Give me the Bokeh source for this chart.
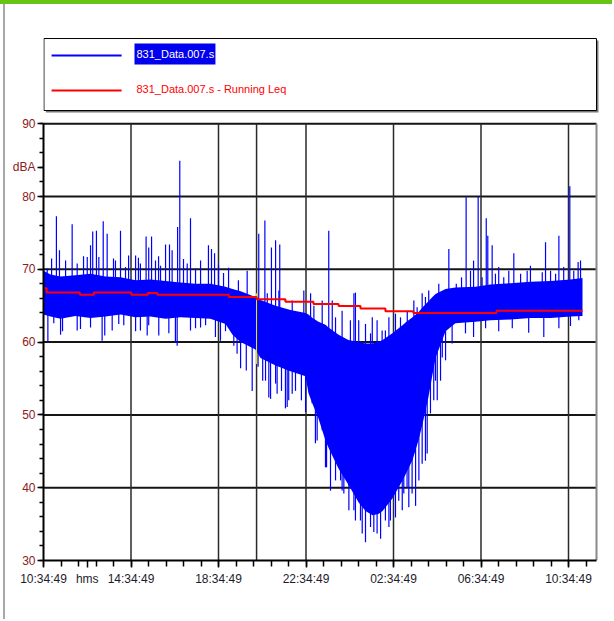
import numpy as np
from bokeh.plotting import figure
from bokeh.models import Range1d, FixedTicker, Div
from bokeh.layouts import column, row
from bokeh.core.properties import value
from bokeh.embed import file_html
from bokeh.resources import INLINE

# ---------------- data (time in hours after 10:34:49, level in dBA) ----------------
core_t = [0.00, 0.32, 0.78, 1.46, 2.15, 2.83, 3.52, 4.21, 4.89, 5.58,
          6.26, 6.95, 7.63, 8.32, 8.64, 9.01, 9.69, 9.92, 10.61, 11.29,
          11.98, 12.11, 12.30, 12.57, 12.89, 13.03, 13.49, 13.94, 14.40, 14.72,
          15.04, 15.31, 15.50, 15.95, 16.41, 16.55, 16.87, 17.14, 17.33, 17.60,
          17.78, 17.92, 18.38, 18.83, 19.75, 20.43, 21.35, 22.26, 23.18, 24.09,
          24.64]
core_hi = [69.8, 69.3, 69.0, 69.2, 69.4, 69.0, 68.9, 68.5, 68.6, 68.4,
           68.2, 68.0, 68.0, 67.6, 67.3, 67.0, 66.2, 65.8, 65.0, 64.4,
           64.0, 63.8, 63.3, 62.8, 62.4, 62.0, 61.0, 60.3, 60.0, 59.8,
           59.8, 60.0, 60.3, 61.2, 62.3, 62.7, 63.4, 64.1, 64.8, 65.6,
           66.2, 66.6, 67.3, 67.5, 67.6, 67.9, 68.1, 68.3, 68.4, 68.6,
           68.8]
core_lo = [63.8, 63.5, 63.2, 63.6, 63.3, 63.5, 63.8, 63.4, 63.5, 63.2,
           63.4, 63.3, 63.2, 62.5, 61.0, 60.0, 59.0, 57.8, 56.8, 56.0,
           55.3, 53.0, 51.5, 49.5, 46.5, 45.5, 42.6, 40.4, 38.0, 36.8,
           36.2, 36.4, 36.8, 38.5, 41.0, 41.8, 43.8, 46.5, 48.8, 52.5,
           55.5, 57.8, 61.5, 62.6, 62.8, 63.0, 63.1, 63.3, 63.3, 63.5,
           63.6]

# single-sample peaks above the band (time, dBA)
peaks_up = [(0.17, 70.1), (0.37, 71.5), (0.59, 77.3), (0.73, 72.6), (1.01, 71.2), (1.31, 76.2),
            (1.54, 70.8), (1.83, 71.8), (2.00, 71.7), (2.15, 73.3), (2.25, 75.2), (2.42, 75.3),
            (2.53, 71.7), (2.73, 76.6), (2.91, 74.9), (3.20, 71.5), (3.29, 71.2), (3.52, 75.3),
            (3.75, 70.3), (3.89, 71.9), (4.21, 71.9), (4.34, 71.6), (4.43, 70.8), (4.69, 74.5),
            (4.81, 73.0), (4.94, 74.5), (5.12, 71.2), (5.26, 71.8), (5.35, 70.5), (5.58, 73.4),
            (5.76, 73.4), (5.88, 72.6), (6.13, 75.8), (6.23, 84.9), (6.40, 71.4), (6.57, 70.8),
            (6.72, 77.0), (6.95, 70.1), (7.18, 71.2), (7.54, 73.3), (7.68, 72.8), (7.82, 72.2),
            (8.00, 70.6), (8.23, 69.5), (8.46, 70.2), (8.91, 68.5), (9.31, 69.8), (9.84, 74.9),
            (10.12, 76.7), (10.23, 66.7), (10.42, 73.0), (10.61, 74.0), (10.76, 67.1), (10.80, 73.4),
            (11.37, 65.7), (11.90, 67.1), (12.21, 66.7), (12.36, 65.0), (12.74, 65.7), (13.04, 75.3),
            (13.20, 65.7), (13.35, 63.4), (13.65, 64.3), (14.03, 63.0), (14.19, 66.7), (14.26, 66.8),
            (14.41, 63.0), (14.72, 62.5), (14.95, 61.2), (15.03, 63.4), (15.25, 63.0), (15.48, 61.6),
            (15.63, 61.6), (15.79, 63.4), (16.09, 63.9), (16.32, 63.4), (16.63, 64.3), (16.93, 65.7),
            (17.08, 64.8), (17.31, 66.7), (17.46, 66.2), (17.61, 67.1), (18.07, 68.0), (18.53, 72.8),
            (18.87, 68.0), (19.11, 68.9), (19.32, 79.9), (19.52, 69.8), (19.66, 71.2), (19.87, 80.0),
            (20.05, 68.9), (20.24, 77.0), (20.31, 74.6), (20.51, 73.3), (20.66, 69.4), (20.81, 70.3),
            (21.04, 68.9), (21.27, 69.8), (21.50, 72.2), (21.81, 69.4), (22.11, 69.8), (22.26, 70.5),
            (22.80, 69.6), (22.95, 73.7), (23.18, 69.8), (23.41, 69.4), (23.56, 74.6), (23.78, 70.3),
            (24.06, 81.4), (24.24, 69.8), (24.44, 71.0), (24.55, 71.2)]

# single-sample dips below the band (time, dBA)
peaks_dn = [(0.20, 60.0), (0.47, 62.6), (0.78, 61.0), (0.87, 61.5), (1.54, 61.6), (1.69, 61.8),
            (2.15, 62.0), (2.68, 60.2), (2.80, 60.9), (3.14, 61.6), (3.44, 62.5), (3.67, 62.3),
            (4.21, 61.5), (4.43, 61.6), (4.74, 60.9), (4.81, 62.3), (5.27, 60.9), (5.73, 61.2),
            (6.03, 60.0), (6.11, 59.5), (6.72, 61.6), (6.95, 61.9), (7.18, 62.0), (7.41, 62.3),
            (7.86, 60.7), (8.09, 60.2), (8.32, 61.5), (8.70, 59.5), (8.85, 58.4), (9.01, 56.4),
            (9.27, 56.1), (9.54, 53.3), (9.81, 56.6), (10.02, 54.7), (10.15, 54.7), (10.30, 52.4),
            (10.38, 52.2), (10.61, 54.3), (10.68, 52.9), (10.88, 53.3), (11.06, 50.9), (11.14, 51.1),
            (11.21, 52.0), (11.37, 52.9), (11.52, 53.3), (11.79, 52.0), (11.98, 50.4), (12.28, 51.6),
            (12.43, 46.1), (12.51, 46.5), (12.74, 47.9), (12.89, 42.8), (12.94, 42.8), (13.12, 39.6),
            (13.35, 41.0), (13.58, 41.0), (13.65, 39.6), (13.73, 39.2), (13.96, 36.9), (14.19, 36.9),
            (14.26, 35.5), (14.49, 35.5), (14.57, 33.7), (14.72, 32.5), (14.95, 34.6), (15.10, 33.9),
            (15.25, 33.7), (15.41, 33.0), (15.63, 35.5), (15.79, 34.6), (15.86, 35.5), (16.09, 35.9),
            (16.24, 38.2), (16.40, 36.9), (16.47, 39.2), (16.62, 40.1), (16.70, 37.3), (16.85, 39.2),
            (17.01, 37.5), (17.16, 41.0), (17.31, 43.3), (17.46, 43.7), (17.54, 44.7), (17.69, 50.2),
            (17.84, 52.0), (17.92, 54.7), (18.00, 52.0), (18.15, 54.7), (18.23, 57.9), (18.38, 57.5),
            (18.68, 59.8), (19.29, 61.2), (19.66, 60.7), (20.21, 61.9), (20.81, 61.5), (21.43, 61.9),
            (22.18, 61.3), (22.87, 60.7), (23.56, 61.9), (24.09, 62.2), (24.47, 63.0)]

leq_t = [0.00, 0.14, 1.66, 2.30, 4.01, 4.77, 5.20, 8.47, 9.74, 11.06,
         12.34, 13.49, 14.49, 15.63, 16.91, 20.71, 24.64]
leq_v = [67.4, 66.8, 66.5, 66.8, 66.5, 66.75, 66.5, 66.2, 65.9, 65.55,
         65.25, 64.95, 64.6, 64.25, 64.0, 64.3, 64.3]

x_ticks = [0, 4, 8, 12, 16, 20, 24]
x_tick_labels = ["10:34:49", "14:34:49", "18:34:49", "22:34:49", "02:34:49", "06:34:49", "10:34:49"]
x_unit_label = "hms"
y_ticks = [30, 40, 50, 60, 70, 80, 90]
y_unit_label = "dBA"
cursor_t = 9.74
series_names = ["831_Data.007.s", "831_Data.007.s - Running Leq"]

# ---------------- layout / style constants ----------------
PW = 607
PH = 615
T_RIGHT = 25.28
FONT = "Liberation Sans"
BLUE = "#0000ff"
RED = "#ff0000"
YLAB = "#8b2020"
XLAB = "#1c1c2c"

p = figure(width=PW, height=PH, x_range=Range1d(0, 25.417), y_range=Range1d(30, 105.55),
           output_backend="svg", toolbar_location=None,
           min_border_left=38, min_border_right=13, min_border_top=6, min_border_bottom=59)
p.outline_line_color = None
p.xgrid.visible = False
p.ygrid.visible = False
p.background_fill_color = "white"
p.border_fill_color = "white"

# grid of the plot box
hg = y_ticks[1:]
p.segment(x0=[0] * len(hg), x1=[T_RIGHT] * len(hg), y0=hg, y1=hg, line_color="#151515", line_width=2)
vg = x_ticks[1:] + [cursor_t]
p.segment(x0=vg, x1=vg, y0=[30] * len(vg), y1=[90] * len(vg), line_color="#2a2a2a", line_width=1.5)
p.segment(x0=[T_RIGHT], x1=[T_RIGHT], y0=[30], y1=[90], line_color="#8a8a8a", line_width=2)

# measured level: dense band + individual peaks
p.varea(x=core_t, y1=core_lo, y2=core_hi, fill_color=BLUE)
up_t = [a for a, b in peaks_up]
up_v = [b for a, b in peaks_up]
dn_t = [a for a, b in peaks_dn]
dn_v = [b for a, b in peaks_dn]
up_base = np.interp(up_t, core_t, core_hi) - 2.0
dn_base = np.interp(dn_t, core_t, core_lo) + 2.0
p.segment(x0=up_t, x1=up_t, y0=up_base, y1=up_v, line_color=BLUE, line_width=1.2)
p.segment(x0=dn_t, x1=dn_t, y0=dn_base, y1=dn_v, line_color=BLUE, line_width=1.2)

# cursor marker (yellow through the data)
p.segment(x0=[cursor_t], x1=[cursor_t], y0=[57.0], y1=[66.7], line_color="#f2f200", line_width=1)

# running Leq
p.step(leq_t, leq_v, mode="after", line_color=RED, line_width=2)

# legend box above the 90 dBA line
p.quad(left=[0.11], right=[T_RIGHT + 0.09], bottom=[91.54], top=[101.43], fill_color="#7a7a7a", line_color=None)
p.quad(left=[0.02], right=[T_RIGHT], bottom=[91.81], top=[101.70], fill_color="white", line_color="black", line_width=1)
p.line([0.37, 3.57], [99.37, 99.37], line_color=BLUE, line_width=2)
p.quad(left=[4.16], right=[7.86], bottom=[98.13], top=[101.02], fill_color="#0000ee", line_color=None)
p.text(x=[4.25], y=[99.57], text=[series_names[0]], text_color="white", text_font=value(FONT),
       text_font_size="11px", text_baseline="middle", text_align="left")
p.line([0.37, 3.57], [94.56, 94.56], line_color=RED, line_width=2)
p.text(x=[4.25], y=[94.70], text=[series_names[1]], text_color=RED, text_font=value(FONT),
       text_font_size="11px", text_baseline="middle", text_align="left")

# axes
ya = p.yaxis[0]
ya.ticker = FixedTicker(ticks=y_ticks + [84], minor_ticks=list(range(30, 91, 2)))
ya.major_label_overrides = {84: y_unit_label}
ya.bounds = (30, 90)
ya.major_tick_out = 6
ya.major_tick_in = 0
ya.minor_tick_out = 4
ya.minor_tick_in = 0
ya.axis_line_width = 2
ya.major_tick_line_width = 1.5
ya.minor_tick_line_width = 1.5
ya.major_label_standoff = 2
ya.major_label_text_color = YLAB
ya.major_label_text_font = FONT
ya.major_label_text_font_size = "12px"

xa = p.xaxis[0]
xa.ticker = FixedTicker(ticks=x_ticks + [2.0], minor_ticks=list(np.arange(0, 25.3, 0.8)))
labels = {t: s for t, s in zip(x_ticks, x_tick_labels)}
labels[2.0] = x_unit_label
xa.major_label_overrides = labels
xa.bounds = (0, T_RIGHT)
xa.major_tick_out = 7
xa.major_tick_in = 0
xa.minor_tick_out = 6
xa.minor_tick_in = 0
xa.axis_line_width = 2
xa.major_tick_line_width = 1.5
xa.minor_tick_line_width = 1.5
xa.major_label_standoff = 4
xa.major_label_text_color = XLAB
xa.major_label_text_font = FONT
xa.major_label_text_font_size = "12px"

bar = Div(text="", width=PW + 5, height=4, margin=(0, 0, 0, 0), styles={"background-color": "#66c414"})
pad = Div(text="", width=3, height=PH, margin=(0, 0, 0, 0))
edge = Div(text="", width=2, height=PH, margin=(0, 0, 0, 0), styles={"background-color": "#a8a8a8"})
layout = column(bar, row(pad, edge, p, spacing=0), spacing=0)

open("out.html", "w").write(file_html(layout, INLINE))
